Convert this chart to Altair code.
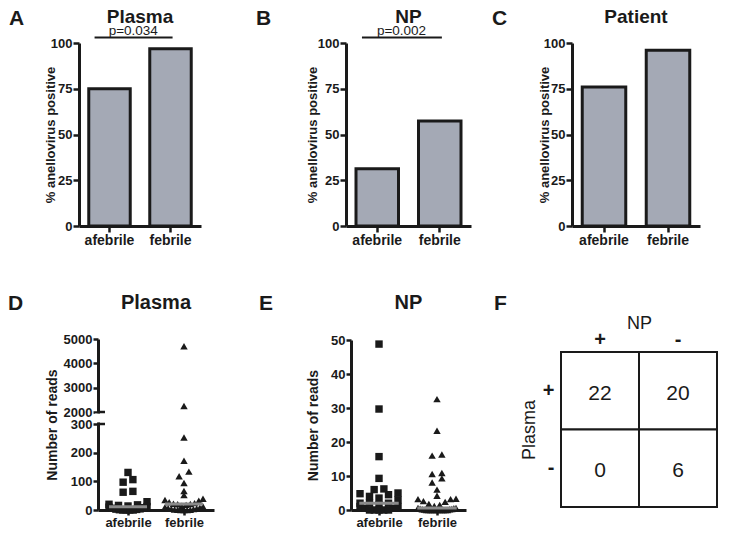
import altair as alt
import pandas as pd
import numpy as np

FONT = "Liberation Sans"
INK = "#1a1a1a"
BAR_FILL = "#a4a9b5"
MEDIAN = "#8a8a8a"

groups = ["afebrile", "febrile"]

# panels A-C: % anellovirus positive
plasma_pct = [75.0, 96.9]
np_pct = [31.3, 57.4]
patient_pct = [76.0, 96.0]
p_plasma = "p=0.034"
p_np = "p=0.002"

# panel D: plasma reads
plasma_reads_afebrile = [131, 106, 97, 65, 62, 29, 20, 18, 16, 14, 12, 10, 8, 6, 4, 3, 2, 1, 0, 0, 0, 0]
plasma_reads_febrile = [4700, 2250, 253, 172, 134, 118, 94, 66, 52, 39, 35, 32, 27, 24, 22, 21, 20, 18,
                        15, 12, 10, 8, 6, 5, 4, 3, 2, 1, 1, 0, 0, 0]
# panel E: NP reads
np_reads_afebrile = [48.8, 29.7, 15.7, 9.3, 6.2, 6.0, 5.0, 4.8, 4.5, 4.0, 3.5, 3.0, 2.0, 2.0, 2.0, 1.5,
                     1.0, 1.0, 0.5, 0.5, 0, 0, 0, 0, 0]
np_reads_febrile = [32.6, 23.3, 16.3, 16.0, 10.9, 10.6, 9.3, 8.1, 6.0, 4.2, 3.3, 3.2, 3.2, 2.6, 2.4, 1.8,
                    1.5, 1.2, 0.6, 0.6, 0.5, 0.4, 0.3, 0.2, 0.2, 0.1, 0, 0, 0, 0, 0, 0, 0, 0, 0, 0, 0]

# panel F: contingency table
table_np = ["+", "-"]
table_plasma = ["+", "-"]
table_counts = [[22, 20], [0, 6]]

ONE = pd.DataFrame({"k": [0]})


def label(text, x, y, size, weight="bold", align="left", baseline="top"):
    return alt.Chart(ONE).mark_text(
        text=text, fontSize=size, fontWeight=weight, align=align, baseline=baseline,
        font=FONT, color=INK
    ).encode(x=alt.value(x), y=alt.value(y))


def bar_panel(letter, title, pct, pval, w, h, title_pad, letter_x):
    df = pd.DataFrame({"group": groups, "pct": pct})
    xsc = alt.Scale(domain=groups, paddingInner=0.32, paddingOuter=0.16)
    ysc = alt.Scale(domain=[0, 100], nice=False)
    xax = alt.Axis(title=None, labelAngle=0, labelFontSize=14, labelFontWeight="bold",
                   tickSize=6, labelPadding=1)
    yax = alt.Axis(title="% anellovirus positive", values=[0, 25, 50, 75, 100], tickSize=6,
                   labelPadding=1, labelFontSize=13, labelFontWeight="bold", titleFontSize=13,
                   titleFontWeight="bold", titlePadding=title_pad)
    bars = alt.Chart(df).mark_bar(fill=BAR_FILL, stroke=INK, strokeWidth=3).encode(
        x=alt.X("group:N", scale=xsc, axis=xax),
        y=alt.Y("pct:Q", scale=ysc, axis=yax),
    )
    layers = [bars, label(letter, letter_x, -35, 21), label(title, w / 2, -35, 19, align="center")]
    if pval:
        rule = alt.Chart(ONE).mark_rule(color=INK, strokeWidth=2).encode(
            x=alt.XDatum("afebrile", type="nominal", bandPosition=0.14),
            x2=alt.X2Datum("febrile", bandPosition=0.55),
            y=alt.YDatum(103, type="quantitative"),
        )
        ptxt = alt.Chart(ONE).mark_text(text=pval, fontSize=13.5, font=FONT, color=INK,
                                        baseline="alphabetic", dy=-2.5, dx=3).encode(
            x=alt.XDatum("afebrile", type="nominal", bandPosition=1),
            y=alt.YDatum(103, type="quantitative"),
        )
        layers += [rule, ptxt]
    return alt.layer(*layers).properties(width=w, height=h)


def swarm(values, heights, d, maxw, ppu):
    bins = {}
    for i, hgt in enumerate(heights):
        bins.setdefault(int(np.floor(hgt / d + 0.5)), []).append(i)
    offs = [0.0] * len(values)
    for idxs in bins.values():
        n = len(idxs)
        if n < 2:
            continue
        step = min(1.3 * d, maxw / (n - 1))
        slots = sorted([(j - (n - 1) / 2) * step for j in range(n)], key=lambda s: (abs(s), s))
        for i, s in zip(sorted(idxs, key=lambda i: values[i]), slots):
            offs[i] = s / ppu
    return offs


def dot_panel(letter, title, a_vals, f_vals, w, h, x0, y0, ydom, yrng_h, yticks, xdom,
              title_pad, letter_x, letter_y, maxw, brk=False):
    # plot region spans x0..x0+w horizontally and y0..y0+h vertically inside the view
    ppu = w / (xdom[1] - xdom[0])
    rows = []
    for gi, (g, vals) in enumerate(zip(groups, [a_vals, f_vals])):
        hs = list(np.interp(vals, ydom, yrng_h))
        offs = swarm(vals, hs, 7.5, maxw, ppu)
        for v, o in zip(vals, offs):
            rows.append({"group": g, "idx": gi, "value": v, "xpos": gi + o})
    df = pd.DataFrame(rows)
    xsc = alt.Scale(domain=xdom, range=[x0, x0 + w], nice=False, zero=False)
    ysc = alt.Scale(domain=ydom, range=[y0 + h - r for r in yrng_h], nice=False, zero=False)
    xax = alt.Axis(title=None, values=[0, 1], labelExpr="datum.value == 0 ? 'afebrile' : 'febrile'",
                   labelFontSize=13, labelFontWeight="bold", tickSize=5, labelPadding=1,
                   labelFlush=False, labelOverlap=False)
    yax = alt.Axis(title="Number of reads", values=yticks, format="d", tickSize=5, labelPadding=1,
                   labelFontSize=13, labelFontWeight="bold", titleFontSize=14, offset=-x0,
                   titleFontWeight="bold", titlePadding=title_pad, zindex=0, labelOverlap=False)
    pts = alt.Chart(df).mark_point(filled=True, opacity=1, size=55, color=INK).encode(
        x=alt.X("xpos:Q", scale=xsc, axis=xax),
        y=alt.Y("value:Q", scale=ysc, axis=yax),
        shape=alt.Shape("group:N", scale=alt.Scale(domain=groups, range=["square", "triangle-up"]),
                        legend=None),
    )
    med = alt.Chart(df).transform_aggregate(
        med="median(value)", groupby=["group", "idx"]
    ).transform_calculate(
        x1="datum.idx - 0.34", x2="datum.idx + 0.34"
    ).mark_rule(color=MEDIAN, strokeWidth=3).encode(
        x=alt.X("x1:Q", scale=xsc, axis=xax),
        x2="x2:Q",
        y=alt.Y("med:Q", scale=ysc, axis=yax),
    )
    layers = [pts, med]
    if brk:
        gap = alt.Chart(ONE).mark_rule(color="white", strokeWidth=6).encode(
            x=alt.XDatum(xdom[0], type="quantitative", scale=xsc, axis=xax),
            y=alt.YDatum(520, type="quantitative", scale=ysc, axis=yax),
            y2=alt.Y2Datum(1780),
        )
        caps = alt.Chart(pd.DataFrame({"v": [300, 2000]})).mark_rule(color=INK, strokeWidth=2.5).encode(
            x=alt.XDatum(xdom[0], type="quantitative", scale=xsc, axis=xax),
            x2=alt.X2Datum(xdom[0] + 7 / ppu),
            y=alt.Y("v:Q", scale=ysc, axis=yax),
        )
        layers += [gap, caps]
    layers += [label(letter, letter_x, letter_y, 21),
               label(title, x0 + w / 2, letter_y, 20, align="center")]
    return alt.layer(*layers).properties(width=x0 + w, height=y0 + h)


def table_panel(letter, w, h, y0, letter_x, letter_y):
    tdf = pd.DataFrame([
        {"np": table_np[j], "plasma": table_plasma[i], "n": table_counts[i][j]}
        for i in range(2) for j in range(2)
    ])
    xs = alt.Scale(domain=table_np, paddingInner=0, paddingOuter=0)
    ys = alt.Scale(domain=table_plasma, range=[y0, y0 + h], paddingInner=0, paddingOuter=0)
    xax = alt.Axis(orient="top", title="NP", titleFontSize=18, titleFontWeight="normal", titlePadding=-3,
                   labelFontSize=20, labelFontWeight="bold", labelPadding=3, ticks=False, domain=False,
                   labelAngle=0, offset=-y0)
    yax = alt.Axis(title="Plasma", titleFontSize=18, titleFontWeight="normal", titlePadding=4,
                   labelFontSize=20, labelFontWeight="bold", labelPadding=7, ticks=False, domain=False)
    rect = alt.Chart(tdf).mark_rect(fill="white", stroke=INK, strokeWidth=2).encode(
        x=alt.X("np:N", scale=xs, axis=xax),
        y=alt.Y("plasma:N", scale=ys, axis=yax),
    )
    txt = alt.Chart(tdf).mark_text(fontSize=21, font=FONT, color=INK, dy=3).encode(
        x=alt.X("np:N", scale=xs, axis=xax),
        y=alt.Y("plasma:N", scale=ys, axis=yax),
        text="n:Q",
    )
    return alt.layer(rect, txt, label(letter, letter_x, letter_y, 21)).properties(width=w, height=y0 + h)


A = bar_panel("A", "Plasma", plasma_pct, p_plasma, 122, 183, -7, -70)
B = bar_panel("B", "NP", np_pct, p_np, 125, 183, -2, -90)
C = bar_panel("C", "Patient", patient_pct, None, 128, 183, -8, -80)

D = dot_panel("D", "Plasma", plasma_reads_afebrile, plasma_reads_febrile, 116, 171, 19, 0,
              [0, 300, 2000, 5000], [0, 86, 98, 171], [0, 100, 200, 300, 2000, 3000, 4000, 5000],
              [-0.536, 1.536], 4, -71, -46, 38, brk=True)
E = dot_panel("E", "NP", np_reads_afebrile, np_reads_febrile, 115, 170, 0, 1,
              [0, 50], [0, 170], [0, 10, 20, 30, 40, 50],
              [-0.483, 1.5], 10, -92, -46, 38)
F = table_panel("F", 156, 155, 13, -67, -46)


def row(*charts, spacing):
    return alt.concat(*charts, columns=len(charts), spacing=spacing, align="none", bounds="full")


top = row(A, row(B, C, spacing=21), spacing=55)
bottom = row(D, row(E, F, spacing=28), spacing=45)

chart = alt.concat(top, bottom, columns=1, spacing=46, align="none", bounds="full").properties(
    padding=0, background="white"
).configure_view(stroke=None).configure_axis(
    domainColor=INK, domainWidth=3, tickColor=INK, tickWidth=2.5, labelOverlap=False,
    labelColor=INK, titleColor=INK, labelFont=FONT, titleFont=FONT, grid=False
)

chart.save("out.html", embed_options={"renderer": "svg", "actions": False})
